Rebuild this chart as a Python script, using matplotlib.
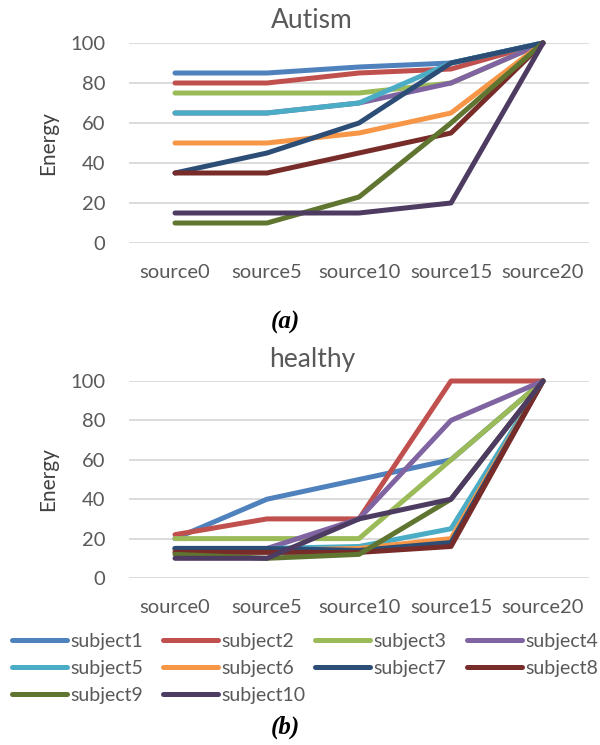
import matplotlib
matplotlib.use("Agg")
import matplotlib.pyplot as plt
import numpy as np

categories = ["source0", "source5", "source10", "source15", "source20"]
subjects = ["subject1", "subject2", "subject3", "subject4", "subject5",
            "subject6", "subject7", "subject8", "subject9", "subject10"]
colors = ["#4F81BD", "#C0504D", "#9BBB59", "#8064A2", "#4BACC6",
          "#F79646", "#2C4D75", "#772C2A", "#5F7530", "#4D3B62"]

autism_s1 = [85, 85, 88, 90, 100]
autism_s2 = [80, 80, 85, 87, 100]
autism_s3 = [75, 75, 75, 80, 100]
autism_s4 = [65, 65, 70, 80, 100]
autism_s5 = [65, 65, 70, 90, 100]
autism_s6 = [50, 50, 55, 65, 100]
autism_s7 = [35, 45, 60, 90, 100]
autism_s8 = [35, 35, 45, 55, 100]
autism_s9 = [10, 10, 23, 60, 100]
autism_s10 = [15, 15, 15, 20, 100]

healthy_s1 = [20, 40, 50, 60, 100]
healthy_s2 = [22, 30, 30, 100, 100]
healthy_s3 = [20, 20, 20, 60, 100]
healthy_s4 = [15, 15, 30, 80, 100]
healthy_s5 = [15, 15, 16, 25, 100]
healthy_s6 = [14, 14, 15, 20, 100]
healthy_s7 = [15, 15, 14, 18, 100]
healthy_s8 = [13, 13, 13, 16, 100]
healthy_s9 = [12, 10, 12, 40, 100]
healthy_s10 = [10, 10, 30, 40, 100]

yticks = [0, 20, 40, 60, 80, 100]

autism = [autism_s1, autism_s2, autism_s3, autism_s4, autism_s5,
          autism_s6, autism_s7, autism_s8, autism_s9, autism_s10]
healthy = [healthy_s1, healthy_s2, healthy_s3, healthy_s4, healthy_s5,
           healthy_s6, healthy_s7, healthy_s8, healthy_s9, healthy_s10]

plt.rcParams['font.family'] = ['Lato', 'DejaVu Sans']
W, H = 600, 745
fig = plt.figure(figsize=(W / 100, H / 100), dpi=100)
txtc = "#595959"
LEFT, RIGHT = 129, 589

def make_ax(top_px, bot_px, title, data):
    ax = fig.add_axes([LEFT / W, 1 - bot_px / H, (RIGHT - LEFT) / W, (bot_px - top_px) / H])
    x = np.arange(len(categories))
    for vals, c, name in zip(data, colors, subjects):
        ax.plot(x, vals, color=c, lw=3.6, solid_capstyle='round',
                solid_joinstyle='round', clip_on=False, label=name)
    ax.set_xlim(-0.5, 4.5)
    ax.set_ylim(0, 100)
    ax.set_yticks(yticks)
    ax.set_xticks(x)
    ax.set_xticklabels(categories)
    for s in ax.spines.values():
        s.set_visible(False)
    ax.grid(axis='y', color='#D9D9D9', lw=1.3)
    ax.set_axisbelow(True)
    ax.tick_params(length=0, labelsize=14.5, colors=txtc)
    ax.tick_params(axis='x', pad=15)
    ax.tick_params(axis='y', pad=17)
    ax.set_ylabel("Energy", fontsize=15, color="#404040")
    ax.yaxis.set_label_coords((58 - LEFT) / (RIGHT - LEFT), 0.5)
    fig.text(312 / W, 1 - (top_px - 22) / H, title, fontsize=19, color=txtc,
             ha='center', va='center')
    return ax

ax1 = make_ax(43, 243, "Autism", autism)
ax2 = make_ax(381, 578, "healthy", healthy)

handles, labels = ax2.get_legend_handles_labels()
col_x = [12, 163, 315, 467]
for c in range(4):
    idx = list(range(c, len(handles), 4))
    fig.legend([handles[i] for i in idx], [labels[i] for i in idx],
               loc='upper left', bbox_to_anchor=(col_x[c] / W, 1 - 633 / H),
               ncol=1, frameon=False, fontsize=14, handlelength=2.85,
               handletextpad=0.15, labelspacing=0.52, borderpad=0,
               borderaxespad=0, labelcolor=txtc)

fig.text(285 / W, 1 - 322 / H, "(a)", fontsize=18, fontweight='bold', fontstyle='italic',
         family='Liberation Serif', ha='center', va='center')
fig.text(285 / W, 1 - 727 / H, "(b)", fontsize=18, fontweight='bold', fontstyle='italic',
         family='Liberation Serif', ha='center', va='center')

fig.savefig("out.png", dpi=100)
